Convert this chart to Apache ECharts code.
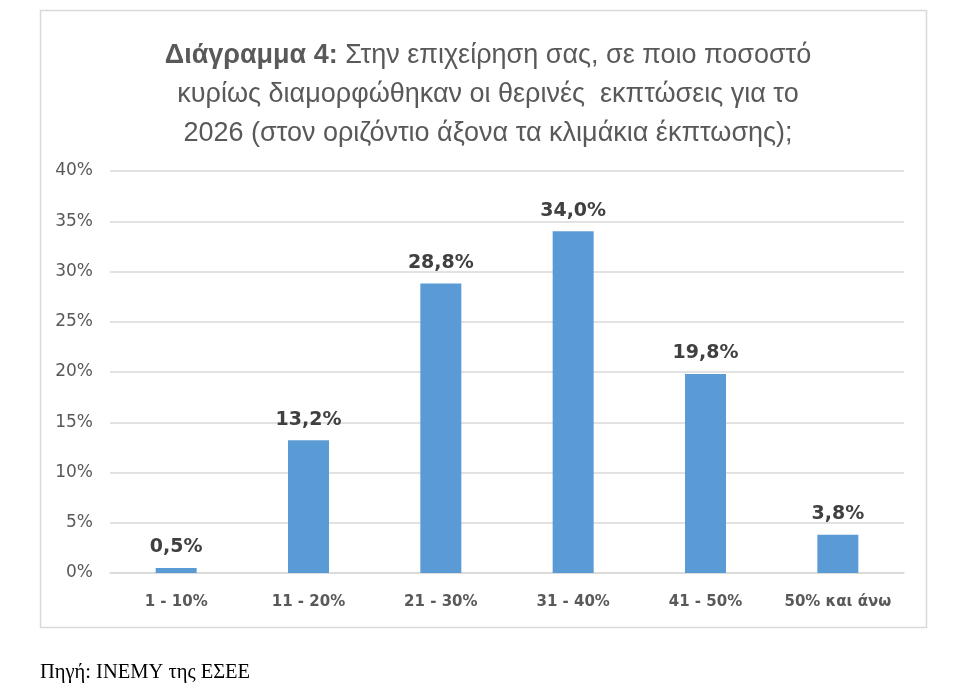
<!DOCTYPE html>
<html>
<head>
<meta charset="utf-8">
<script src="https://cdn.jsdelivr.net/npm/echarts@6/dist/echarts.min.js"></script>
<style>
  html, body { margin: 0; padding: 0; background: #fff; }
  #chart { width: 968px; height: 698px; }
</style>
</head>
<body>
<div id="chart"></div>
<script>
// κλιμάκια έκπτωσης και ποσοστά
const categories = ['1 - 10%', '11 - 20%', '21 - 30%', '31 - 40%', '41 - 50%', '50% και άνω'];
const values = [0.5, 13.2, 28.8, 34.0, 19.8, 3.8];
const yTicks = [0, 5, 10, 15, 20, 25, 30, 35, 40];

const myChart = echarts.init(document.getElementById('chart'));
myChart.setOption({
  animation: false,
  backgroundColor: '#fff',
  title: {
    text: '{b|Διάγραμμα 4:} Στην επιχείρηση σας, σε ποιο ποσοστό\nκυρίως διαμορφώθηκαν οι θερινές  εκπτώσεις για το\n2026 (στον οριζόντιο άξονα τα κλιμάκια έκπτωσης);',
    left: 483,
    top: 31,
    textAlign: 'center',
    textStyle: {
      fontFamily: 'Liberation Sans Narrow, Liberation Sans, sans-serif',
      fontSize: 27,
      fontWeight: 'normal',
      color: '#595959',
      lineHeight: 39,
      rich: {
        b: {
          fontFamily: 'Liberation Sans Narrow, Liberation Sans, sans-serif',
          fontSize: 27,
          fontWeight: 'bold',
          color: '#595959',
          lineHeight: 39
        }
      }
    }
  },
  graphic: [
    {
      type: 'rect',
      shape: { x: 40.5, y: 10.5, width: 886, height: 617 },
      style: { fill: 'none', stroke: '#d9d9d9', lineWidth: 1.5 },
      z: -1
    },
    {
      type: 'text',
      left: 40,
      top: 662,
      style: {
        text: 'Πηγή: ΙΝΕΜΥ της ΕΣΕΕ',
        font: '20.5px "Liberation Serif", "DejaVu Serif", serif',
        fill: '#000'
      }
    }
  ],
  grid: { left: 110, right: 64, top: 171, bottom: 125 },
  xAxis: {
    type: 'category',
    data: categories,
    axisLine: { show: true, lineStyle: { color: '#d9d9d9', width: 1.5 } },
    axisTick: { show: false },
    axisLabel: {
      interval: 0,
      color: '#595959',
      fontFamily: 'DejaVu Sans, sans-serif',
      fontWeight: 'bold',
      fontSize: 15,
      margin: 22
    }
  },
  yAxis: {
    type: 'value',
    min: 0,
    max: 40,
    interval: 5,
    axisLine: { show: false },
    axisTick: { show: false },
    splitLine: { lineStyle: { color: '#d9d9d9', width: 1.5 } },
    axisLabel: {
      color: '#595959',
      fontFamily: 'DejaVu Sans, sans-serif',
      fontSize: 17,
      margin: 17,
      formatter: v => (yTicks.includes(v) ? v + '%' : '')
    }
  },
  series: [{
    type: 'bar',
    data: values,
    barWidth: 41,
    itemStyle: { color: '#5b9bd5' },
    label: {
      show: true,
      position: 'top',
      distance: 11,
      color: '#404040',
      fontFamily: 'DejaVu Sans, sans-serif',
      fontWeight: 'bold',
      fontSize: 19,
      formatter: p => p.value.toFixed(1).replace('.', ',') + '%'
    }
  }]
});
</script>
</body>
</html>
